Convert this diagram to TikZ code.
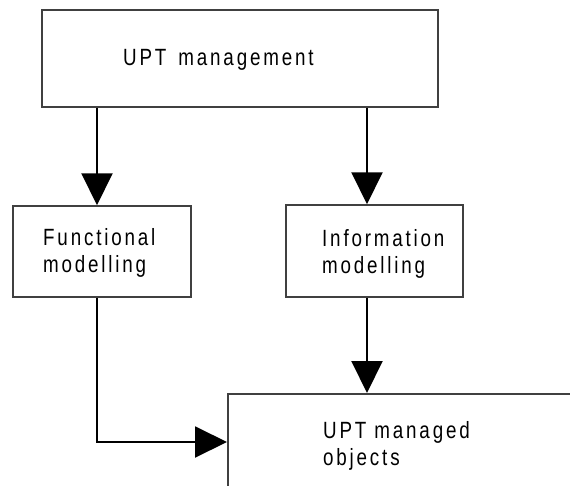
\documentclass[tikz,border=0pt]{standalone}
\usepackage{fontspec}
\setmainfont{Liberation Sans}[FakeStretch=0.8, LetterSpace=12]
\usetikzlibrary{arrows.meta}

\begin{document}
\begin{tikzpicture}[x=1pt, y=-1pt,
  box/.style={draw=black!75, line width=1.5pt, inner sep=0pt},
  lbl/.style={anchor=base west, inner sep=0pt, font=\fontsize{23.5}{27}\selectfont, align=left},
  arr/.style={line width=2pt, -{Triangle[width=31pt, length=32pt]}}
]
\clip (0,0) rectangle (570,485);

% boxes
\node[box, minimum width=396pt, minimum height=97pt] (top)  at (240,58.5) {};
\node[box, minimum width=178pt, minimum height=91pt] (func) at (102,251.5) {};
\node[box, minimum width=177pt, minimum height=92pt] (info) at (374.5,251) {};
\node[box, minimum width=393pt, minimum height=127pt, anchor=north west] (bot) at (227,393) {};

% labels (base anchor sits on the last line)
\node[lbl] (ttop)  at (123,65)  {UPT\hspace{4pt} management};
\node[lbl] (tfunc) at (43,272)  {Functional\\modelling};
\node[lbl] (tinfo) at (322,273) {Information\\modelling};
\node[lbl] (tbot)  at (323,465) {UPT managed\\objects};

% connector guides
\coordinate (lx) at (97,0);
\coordinate (rx) at (367,0);
\coordinate (ly) at (0,442);

% connectors
\draw[arr] (top.south -| lx) -- (func.north -| lx);
\draw[arr] (top.south -| rx) -- (info.north -| rx);
\draw[arr] (info.south -| rx) -- (bot.north -| rx);
\draw[arr] (func.south -| lx) |- (ly -| bot.west);
\end{tikzpicture}
\end{document}
